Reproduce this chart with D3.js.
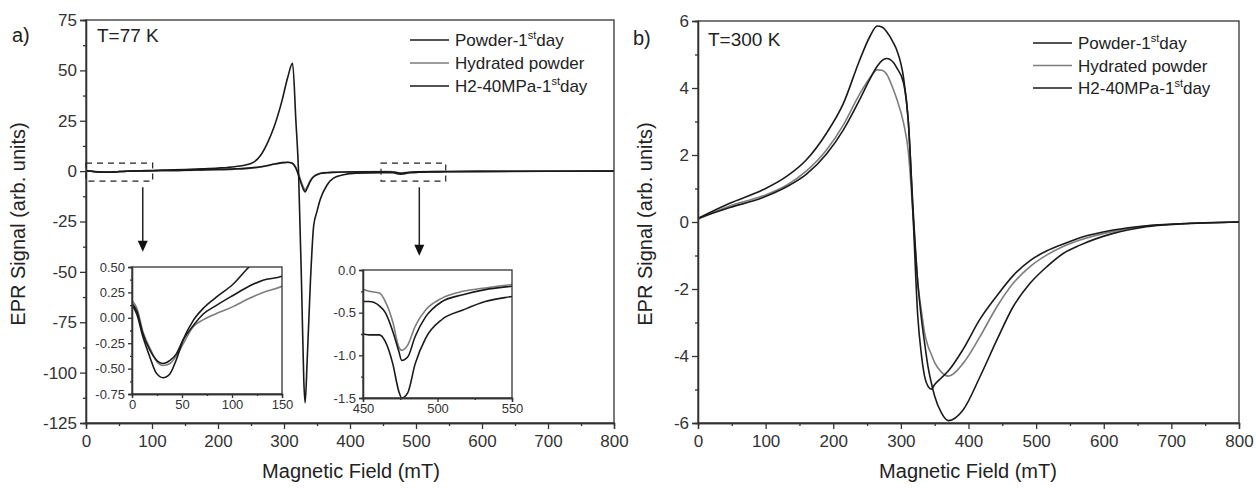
<!DOCTYPE html>
<html>
<head>
  <meta charset="UTF-8" />
  <title>EPR spectra at 77 K and 300 K</title>
  <script src="https://d3js.org/d3.v7.min.js"></script>
  <style>
    body { margin: 0; background: #fff; }
    text { font-family: "Liberation Sans", Arial, sans-serif; fill: #222; }
    .axis path, .axis line { stroke: #333; stroke-width: 1.3px; }
    .axis text { font-size: 17px; fill: #333; }
    .inset .axis text { font-size: 13px; }
    .curve { fill: none; stroke-width: 1.6px; }
    .frame { fill: none; stroke: #333; stroke-width: 1.3px; }
  </style>
</head>
<body>
  <svg id="chart" width="1256" height="488"></svg>
  <script>
    // ---- data ----
    // panel a) T = 77 K, magnetic field in mT
    const field77 = [0, 5, 11, 18, 24, 31, 38, 44, 51, 61, 71, 84, 101, 117, 131, 150, 175, 200, 225, 250, 265, 275, 285, 297, 306, 313, 318, 322, 327, 330, 332, 335, 340, 345, 350, 355, 365, 375, 390, 410, 450, 454, 461, 465, 470, 474, 476, 480, 485, 492, 503, 517, 532, 550, 600, 700, 800];
    const powder77 = [0.14, 0.06, -0.16, -0.32, -0.41, -0.45, -0.42, -0.36, -0.22, -0.08, 0.035, 0.12, 0.22, 0.31, 0.37, 0.41, 0.6, 0.8, 1.1, 1.6, 2.2, 2.8, 3.5, 4.2, 4.4, 3.8, 1.5, -2.0, -7.0, -9.5, -10.3, -8.5, -5.0, -2.8, -1.8, -1.2, -0.8, -0.6, -0.45, -0.38, -0.37, -0.37, -0.42, -0.5, -0.72, -0.95, -1.06, -1.02, -0.78, -0.55, -0.37, -0.29, -0.23, -0.19, -0.12, -0.05, -0.02];
    const hydrated77 = [0.17, 0.09, -0.14, -0.30, -0.42, -0.47, -0.45, -0.38, -0.26, -0.09, -0.02, 0.04, 0.11, 0.19, 0.25, 0.31, 0.5, 0.7, 1.0, 1.5, 2.1, 2.7, 3.4, 4.1, 4.3, 3.9, 1.8, -1.5, -6.0, -8.5, -9.3, -7.8, -4.5, -2.6, -1.7, -1.1, -0.7, -0.5, -0.4, -0.32, -0.23, -0.25, -0.27, -0.37, -0.61, -0.90, -0.94, -0.88, -0.66, -0.47, -0.33, -0.25, -0.21, -0.17, -0.1, -0.04, -0.02];
    const h2_77 = [0.13, 0.03, -0.19, -0.39, -0.54, -0.59, -0.55, -0.42, -0.22, -0.03, 0.09, 0.20, 0.33, 0.50, 0.62, 0.80, 1.1, 1.5, 2.2, 3.8, 8, 14, 22, 35, 47, 53.5, 25, 0, -62, -104, -115, -95, -55, -27, -20, -14, -7, -3.5, -1.8, -1.0, -0.75, -0.76, -0.76, -0.84, -1.10, -1.42, -1.50, -1.44, -1.10, -0.80, -0.58, -0.47, -0.37, -0.31, -0.2, -0.08, -0.03];

    // panel b) T = 300 K
    const field300 = [0, 47, 96, 131, 160, 190, 215, 239, 254, 265, 272, 279, 289, 294, 304, 311, 318, 325, 330, 335, 340, 345, 350, 360, 370, 392, 417, 442, 466, 491, 516, 540, 565, 614, 663, 713, 800];
    const powder300 = [0.11, 0.56, 0.96, 1.36, 1.85, 2.65, 3.54, 4.83, 5.53, 5.85, 5.82, 5.68, 5.35, 5.13, 4.30, 3.0, 0.4, -1.8, -2.82, -3.6, -4.3, -4.8, -5.2, -5.7, -5.93, -5.61, -4.62, -3.52, -2.53, -1.83, -1.33, -0.94, -0.69, -0.34, -0.14, -0.06, 0.0];
    const hydrated300 = [0.08, 0.48, 0.78, 1.1, 1.52, 2.15, 2.9, 3.82, 4.3, 4.54, 4.53, 4.41, 3.95, 3.67, 2.95, 2.1, 0.2, -1.82, -2.6, -3.3, -3.7, -3.95, -4.2, -4.48, -4.6, -4.22, -3.42, -2.53, -1.83, -1.33, -0.98, -0.73, -0.54, -0.28, -0.12, -0.05, 0.0];
    const h2_300 = [0.11, 0.43, 0.73, 1.05, 1.42, 2.03, 2.75, 3.65, 4.26, 4.65, 4.82, 4.88, 4.76, 4.6, 4.15, 3.0, 0.2, -2.82, -3.9, -4.6, -4.9, -4.99, -4.85, -4.65, -4.45, -3.8, -2.9, -2.2, -1.6, -1.15, -0.86, -0.66, -0.47, -0.24, -0.11, -0.05, 0.0];

    // legend labels: [text, superscript, text]
    const legendLabels = [["Powder-1", "st", "day"], ["Hydrated powder", "", ""], ["H2-40MPa-1", "st", "day"]];
    const seriesColors = ["#1a1a1a", "#7d7d7d", "#1a1a1a"];

    // ticks
    const fieldTicks = [0, 100, 200, 300, 400, 500, 600, 700, 800];
    const signalTicks77 = [-125, -100, -75, -50, -25, 0, 25, 50, 75];
    const signalTicks300 = [-6, -4, -2, 0, 2, 4, 6];
    const inset1FieldTicks = [0, 50, 100, 150];
    const inset1SignalTicks = [-0.75, -0.5, -0.25, 0, 0.25, 0.5];
    const inset2FieldTicks = [450, 500, 550];
    const inset2SignalTicks = [-1.5, -1.0, -0.5, 0.0];

    const svg = d3.select("#chart");

    // plain hyphen minus like the original figure
    const fmt = spec => { const f = d3.format(spec); return v => f(v).replace("\u2212", "-"); };

    function midTicks(t) {
      const out = [];
      for (let i = 0; i < t.length - 1; i++) out.push((t[i] + t[i + 1]) / 2);
      return out;
    }

    // draw axes + frame for a plot box
    function drawAxes(g, x, y, xt, yt, yfmt, xfmt, major, minor, pad) {
      const [x0, x1] = x.range();
      const [y0, y1] = y.range();
      g.append("g").attr("class", "axis")
        .attr("transform", `translate(0,${y0})`)
        .call(d3.axisBottom(x).tickValues(midTicks(xt)).tickSize(minor).tickFormat(""));
      g.append("g").attr("class", "axis")
        .attr("transform", `translate(0,${y0})`)
        .call(d3.axisBottom(x).tickValues(xt).tickSize(major).tickPadding(pad).tickFormat(xfmt));
      g.append("g").attr("class", "axis")
        .attr("transform", `translate(${x0},0)`)
        .call(d3.axisLeft(y).tickValues(midTicks(yt)).tickSize(minor).tickFormat(""));
      g.append("g").attr("class", "axis")
        .attr("transform", `translate(${x0},0)`)
        .call(d3.axisLeft(y).tickValues(yt).tickSize(major).tickPadding(3).tickFormat(yfmt));
      g.append("rect").attr("class", "frame")
        .attr("x", x0).attr("y", y1).attr("width", x1 - x0).attr("height", y0 - y1);
    }

    function drawCurves(g, x, y, field, series, clipId) {
      const line = d3.line()
        .x((d, i) => x(field[i]))
        .y(d => y(d))
        .curve(d3.curveMonotoneX);
      const cg = g.append("g");
      if (clipId) cg.attr("clip-path", `url(#${clipId})`);
      // gray first so black lines sit on top
      [1, 0, 2].forEach(k => {
        cg.append("path").attr("class", "curve")
          .attr("stroke", seriesColors[k])
          .attr("d", line(series[k]));
      });
    }

    function drawLegend(g, lx, ly, dy) {
      legendLabels.forEach((lab, i) => {
        const yy = ly + i * dy;
        g.append("line").attr("x1", lx).attr("x2", lx + 39)
          .attr("y1", yy).attr("y2", yy)
          .attr("stroke", seriesColors[i]).attr("stroke-width", 1.6);
        const t = g.append("text").attr("x", lx + 45).attr("y", yy + 6)
          .style("font-size", "17px");
        t.append("tspan").text(lab[0]);
        if (lab[1]) {
          t.append("tspan").attr("dy", -7).style("font-size", "11px").text(lab[1]);
          t.append("tspan").attr("dy", 7).text(lab[2]);
        }
      });
    }

    function addClip(id, x, y) {
      svg.append("clipPath").attr("id", id).append("rect")
        .attr("x", x.range()[0]).attr("y", y.range()[1])
        .attr("width", x.range()[1] - x.range()[0])
        .attr("height", y.range()[0] - y.range()[1]);
    }

    function arrow(g, px, py0, py1) {
      g.append("line").attr("x1", px).attr("x2", px).attr("y1", py0).attr("y2", py1 - 8)
        .attr("stroke", "#222").attr("stroke-width", 1.5);
      g.append("path")
        .attr("d", `M${px - 5},${py1 - 11} L${px + 5},${py1 - 11} L${px},${py1} Z`)
        .attr("fill", "#111");
    }

    // ---------- panel a ----------
    const xA = d3.scaleLinear().domain([0, 800]).range([86, 614]);
    const yA = d3.scaleLinear().domain([-125, 75]).range([423, 20]);
    const gA = svg.append("g");
    addClip("clipA", xA, yA);
    drawCurves(gA, xA, yA, field77, [powder77, hydrated77, h2_77], "clipA");
    drawAxes(gA, xA, yA, fieldTicks, signalTicks77, fmt("d"), fmt("d"), 6, 3, 6);

    // dashed zoom boxes and arrows
    [[0, 101, 86], [447, 545, 505]].forEach(([a, b, ax], i) => {
      gA.append("rect")
        .attr("x", xA(a)).attr("y", yA(4))
        .attr("width", xA(b) - xA(a)).attr("height", yA(-5) - yA(4))
        .attr("fill", "none").attr("stroke", "#222").attr("stroke-width", 1.2)
        .attr("stroke-dasharray", "6,5");
      arrow(gA, xA(ax), yA(-8), i === 0 ? yA(-40) : yA(-42));
    });

    gA.append("text").attr("x", 12).attr("y", 42).style("font-size", "20px").text("a)");
    gA.append("text").attr("x", 97).attr("y", 42).style("font-size", "19px").text("T=77 K");
    gA.append("text").attr("x", 18).attr("y", 224)
      .attr("transform", "rotate(-90,18,224)").attr("dy", "0.35em")
      .attr("text-anchor", "middle").style("font-size", "20px")
      .text("EPR Signal (arb. units)");
    gA.append("text").attr("x", 351).attr("y", 478)
      .attr("text-anchor", "middle").style("font-size", "20px")
      .text("Magnetic Field (mT)");
    drawLegend(gA, 410, 40, 23);

    // inset 1 (0-150 mT)
    const xI1 = d3.scaleLinear().domain([0, 150]).range([132, 282]);
    const yI1 = d3.scaleLinear().domain([-0.75, 0.5]).range([394, 267]);
    const gI1 = svg.append("g").attr("class", "inset");
    gI1.append("rect").attr("x", 132).attr("y", 267).attr("width", 150).attr("height", 127).attr("fill", "#fff");
    addClip("clipI1", xI1, yI1);
    drawCurves(gI1, xI1, yI1, field77, [powder77, hydrated77, h2_77], "clipI1");
    drawAxes(gI1, xI1, yI1, inset1FieldTicks, inset1SignalTicks, fmt(".2f"), fmt("d"), 4, 2, 2);

    // inset 2 (450-550 mT)
    const xI2 = d3.scaleLinear().domain([450, 550]).range([363, 512]);
    const yI2 = d3.scaleLinear().domain([-1.5, 0]).range([398, 270]);
    const gI2 = svg.append("g").attr("class", "inset");
    gI2.append("rect").attr("x", 363).attr("y", 270).attr("width", 149).attr("height", 128).attr("fill", "#fff");
    addClip("clipI2", xI2, yI2);
    drawCurves(gI2, xI2, yI2, field77, [powder77, hydrated77, h2_77], "clipI2");
    drawAxes(gI2, xI2, yI2, inset2FieldTicks, inset2SignalTicks, fmt(".1f"), fmt("d"), 4, 2, 2);

    // ---------- panel b ----------
    const xB = d3.scaleLinear().domain([0, 800]).range([698, 1239]);
    const yB = d3.scaleLinear().domain([-6, 6]).range([423, 21]);
    const gB = svg.append("g");
    addClip("clipB", xB, yB);
    drawCurves(gB, xB, yB, field300, [powder300, hydrated300, h2_300], "clipB");
    drawAxes(gB, xB, yB, fieldTicks, signalTicks300, fmt("d"), fmt("d"), 6, 3, 6);

    gB.append("text").attr("x", 633).attr("y", 45).style("font-size", "20px").text("b)");
    gB.append("text").attr("x", 708).attr("y", 46).style("font-size", "19px").text("T=300 K");
    gB.append("text").attr("x", 645).attr("y", 224)
      .attr("transform", "rotate(-90,645,224)").attr("dy", "0.35em")
      .attr("text-anchor", "middle").style("font-size", "20px")
      .text("EPR Signal (arb. units)");
    gB.append("text").attr("x", 968).attr("y", 478)
      .attr("text-anchor", "middle").style("font-size", "20px")
      .text("Magnetic Field (mT)");
    drawLegend(gB, 1033, 43, 22.5);
  </script>
</body>
</html>
